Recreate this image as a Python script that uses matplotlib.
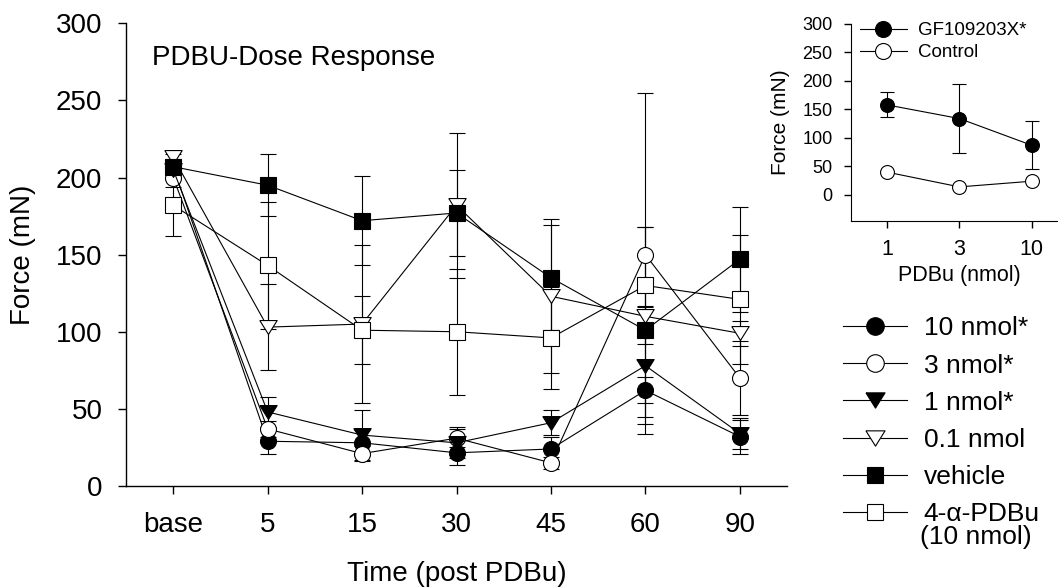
import numpy as np
import matplotlib
matplotlib.use("Agg")
import matplotlib.pyplot as plt
from matplotlib.lines import Line2D

plt.rcParams['font.family'] = ['Liberation Sans', 'DejaVu Sans']

# main panel: force over time after PDBu
times = ['base', '5', '15', '30', '45', '60', '90']

nmol10 = [207, 29, 28, 21.5, 24, 62, 32]
nmol10_err = [8, 8, 8, 8, 8, 8.5, 11]
nmol3 = [200, 37, 21, 31, 15, 150, 70]
nmol3_err = [6, 5, 5, 6, 4, 105, 24]
nmol1 = [205, 48, 33, 28, 41, 78, 34]
nmol1_err = [5, 10, 16, 10, 8, 38, 10]
nmol01 = [213, 103, 105, 182, 123, 110, 99]
nmol01_err = [4, 28, 51, 47, 50, 7, 8]
vehicle = [207, 195, 172, 177, 135, 101, 147]
vehicle_err = [5, 20, 29, 28, 34, 67, 34]
alpha = [182, 143, 101, 100, 96, 130, 121]
alpha_err = [20, 41, 22, 41, 33, 38, 42]

# inset: dose response
doses = ['1', '3', '10']
gf = [158, 134, 87]
gf_err = [22, 60, 42]
control = [40, 14, 24]

# flattened down-pointing triangle (closed)
tri_down = [(-1, 0.8), (1, 0.8), (0, -0.8), (-1, 0.8)]

fig = plt.figure(figsize=(10.58, 5.88), dpi=100)
ax = fig.add_axes([0.1191, 0.1735, 0.6248, 0.7869])

x = np.arange(len(times))
series = [
    (nmol10, nmol10_err, 'o', 'black', '10 nmol*'),
    (nmol3, nmol3_err, 'o', 'white', '3 nmol*'),
    (nmol1, nmol1_err, tri_down, 'black', '1 nmol*'),
    (nmol01, nmol01_err, tri_down, 'white', '0.1 nmol'),
    (vehicle, vehicle_err, 's', 'black', 'vehicle'),
    (alpha, alpha_err, 's', 'white', '4-\u03b1-PDBu'),
]
handles = []
for vals, err, mk, fc, lab in series:
    if isinstance(mk, str):
        ms = 11.5 if mk == 'o' else 11
    else:
        ms = 12.5
    ax.errorbar(x, vals, yerr=err, color='black', lw=0.8, elinewidth=0.8,
                capsize=5.5, capthick=0.8, marker=mk, ms=ms, mfc=fc,
                mec='black', mew=0.8, zorder=3)
    handles.append(Line2D([], [], color='black', lw=0.8, marker=mk, ms=ms,
                          mfc=fc, mec='black', mew=0.8, label=lab))

ax.set_xlim(-0.5, 6.5)
ax.set_ylim(0, 300)
ax.set_xticks(x)
ax.set_xticklabels(times)
ax.set_yticks(range(0, 301, 50))
ax.spines['top'].set_visible(False)
ax.spines['right'].set_visible(False)
for s in ['left', 'bottom']:
    ax.spines[s].set_linewidth(1.0)
ax.tick_params(axis='both', labelsize=20, length=6, width=1.0, direction='out')
ax.tick_params(axis='y', pad=11)
ax.tick_params(axis='x', pad=13)
ax.set_xlabel('Time (post PDBu)', fontsize=20, labelpad=16)
ax.set_ylabel('Force (mN)', fontsize=20, labelpad=14)
ax.text(0.039, 0.952, 'PDBU-Dose Response', transform=ax.transAxes,
        fontsize=20, ha='left', va='top')

fig.legend(handles=handles, loc='upper left', bbox_to_anchor=(0.797, 0.462),
           frameon=False, fontsize=19, handlelength=2.4, handletextpad=0.65,
           labelspacing=0.5, borderpad=0, borderaxespad=0, markerscale=1.1)
fig.text(920 / 1058, 1 - 537 / 588, '(10 nmol)', fontsize=19, ha='left', va='center')

# inset
ax2 = fig.add_axes([0.8041, 0.625, 0.2054, 0.3342])
xi = np.arange(len(doses))
ax2.errorbar(xi, gf, yerr=gf_err, color='black', lw=0.8, elinewidth=0.8,
             capsize=5, capthick=0.8, marker='o', ms=10, mfc='black',
             mec='black', mew=0.8, zorder=3)
ax2.plot(xi, control, color='black', lw=0.8, marker='o', ms=10, mfc='white',
         mec='black', mew=0.8, zorder=3)
ax2.set_xlim(-0.5, 2.5)
ax2.set_ylim(-45, 300)
ax2.set_xticks(xi)
ax2.set_xticklabels(doses)
ax2.set_yticks(range(0, 301, 50))
ax2.spines['top'].set_visible(False)
ax2.spines['right'].set_visible(False)
ax2.tick_params(axis='y', labelsize=13, length=5, width=1.0, pad=8)
ax2.tick_params(axis='x', labelsize=15.5, length=5, width=1.0, pad=8)
ax2.set_xlabel('PDBu (nmol)', fontsize=15.5, labelpad=4)
ax2.set_ylabel('Force (mN)', fontsize=15, labelpad=9)
inset_handles = [
    Line2D([], [], color='black', lw=0.8, marker='o', ms=10, mfc='black',
           mec='black', mew=0.8, label='GF109203X*'),
    Line2D([], [], color='black', lw=0.8, marker='o', ms=10, mfc='white',
           mec='black', mew=0.8, label='Control'),
]
ax2.legend(handles=inset_handles, loc='upper left',
           bbox_to_anchor=(860 / 1058, 0.962),
           bbox_transform=fig.transFigure, frameon=False, fontsize=13.5,
           handlelength=2.5, handletextpad=0.6, labelspacing=0.25,
           borderpad=0, borderaxespad=0, markerscale=1.15)

fig.savefig('out.png', dpi=100)
